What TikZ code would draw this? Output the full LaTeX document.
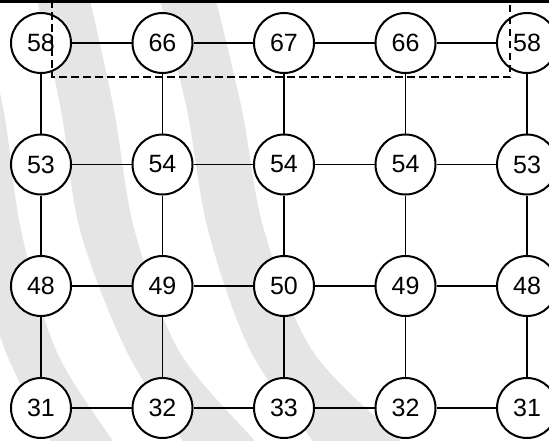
\documentclass[tikz,border=0pt]{standalone}
\usepackage{fontspec}
\setmainfont{Liberation Sans}
\definecolor{bandgray}{RGB}{229,229,229}
\begin{document}
\begin{tikzpicture}[x=1pt,y=-1pt,
  vtx/.style={circle,draw=black,line width=2pt,fill=white,minimum size=60pt,inner sep=0pt,
              font=\fontsize{25}{29}\selectfont},
  edge/.style={line width=1.2pt},
  band/.style={fill=bandgray,draw=none},
  frame/.style={line width=1.1pt,dash pattern=on 7.5pt off 4.5pt}]
\useasboundingbox (0,0) rectangle (549,440);
% background bands
\begin{scope}
\clip (0,0) rectangle (549,440);
\fill[band] plot[smooth,tension=0.55] coordinates {(-80,-20) (-52,110) (-31,230) (5,350) (50,440) (58,455)}
  -- plot[smooth,tension=0.55] coordinates {(122,455) (112,440) (56,350) (21,230) (3.5,110) (-26,-20)} -- cycle;
\fill[band] plot[smooth,tension=0.55] coordinates {(32,-20) (37,0) (61,110) (80,230) (126,350) (182,440) (190,455)}
  -- plot[smooth,tension=0.55] coordinates {(266,455) (254,440) (178.5,350) (134.5,230) (114,110) (90,0) (85,-20)} -- cycle;
\fill[band] plot[smooth,tension=0.55] coordinates {(155,-20) (160,0) (187,110) (208,230) (250,350) (312,440) (322,455)}
  -- plot[smooth,tension=0.55] coordinates {(414,455) (400,440) (312,350) (264,230) (242,110) (216,0) (211,-20)} -- cycle;
\end{scope}
% nodes
\node[vtx] (n11) at (41,43) {58};
\node[vtx] (n12) at (162.5,43) {66};
\node[vtx] (n13) at (284,43) {67};
\node[vtx] (n14) at (405.5,43) {66};
\node[vtx] (n15) at (527,43) {58};
\node[vtx] (n21) at (41,164.5) {53};
\node[vtx] (n22) at (162.5,164.5) {54};
\node[vtx] (n23) at (284,164.5) {54};
\node[vtx] (n24) at (405.5,164.5) {54};
\node[vtx] (n25) at (527,164.5) {53};
\node[vtx] (n31) at (41,286) {48};
\node[vtx] (n32) at (162.5,286) {49};
\node[vtx] (n33) at (284,286) {50};
\node[vtx] (n34) at (405.5,286) {49};
\node[vtx] (n35) at (527,286) {48};
\node[vtx] (n41) at (41,408) {31};
\node[vtx] (n42) at (162.5,408) {32};
\node[vtx] (n43) at (284,408) {33};
\node[vtx] (n44) at (405.5,408) {32};
\node[vtx] (n45) at (527,408) {31};
% connectors
\foreach \r in {1,...,4}
  \foreach \c/\d in {1/2,2/3,3/4,4/5}
    \draw[edge] (n\r\c) -- (n\r\d);
\foreach \c in {1,...,5}
  \foreach \r/\s in {1/2,2/3,3/4}
    \draw[edge] (n\r\c) -- (n\s\c);
% dashed frame
\coordinate (d1) at (52,0);
\coordinate (d2) at (52,77);
\coordinate (d3) at (510,77);
\coordinate (d4) at (510,0);
\draw[frame] (d1) -- (d2) -- (d3) -- (d4);
% top bar
\fill[black] (0,0) rectangle (549,2.8);
\end{tikzpicture}
\end{document}
